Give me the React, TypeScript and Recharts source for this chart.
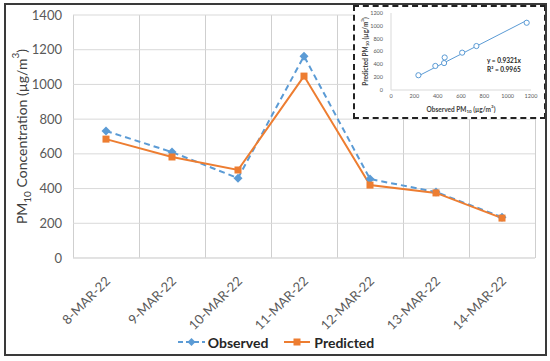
import React from 'react';
import {
  LineChart,
  Line,
  XAxis,
  YAxis,
  CartesianGrid,
  Legend,
  ScatterChart,
  Scatter,
} from 'recharts';

// 観測値と予測値（µg/m³）
const dates = ['8-MAR-22', '9-MAR-22', '10-MAR-22', '11-MAR-22', '12-MAR-22', '13-MAR-22', '14-MAR-22'];
const observed = [732, 610, 460, 1163, 455, 380, 235];
const predicted = [685, 582, 507, 1048, 420, 375, 230];
const yTicks = [0, 200, 400, 600, 800, 1000, 1200, 1400];

// 挿入図（散布図）の軸と回帰式
const insetTicks = [0, 200, 400, 600, 800, 1000, 1200];
const trendSlope = 0.9321;
const trendRange = [230, 1165];
const equationText = 'y = 0.9321x';
const r2Text = 'R² = 0.9965';

const FONT = 'Lato, "Open Sans", sans-serif';
const BLUE = '#5B9BD5';
const ORANGE = '#ED7D31';
const GRID = '#D9D9D9';
const VGRID = '#CFCFCF';
const TICK = '#595959';

// プロット領域（マージン・軸サイズから決まる）
const CHART_W = 550;
const CHART_H = 361;
const MARGIN = { top: 15, right: 15, bottom: 8, left: 0 };
const Y_AXIS_W = 73;
const X_AXIS_H = 73;
const LEGEND_H = 22;
const PLOT_LEFT = MARGIN.left + Y_AXIS_W;
const PLOT_W = CHART_W - PLOT_LEFT - MARGIN.right;
const PLOT_H = CHART_H - MARGIN.top - MARGIN.bottom - LEGEND_H - X_AXIS_H;

const rows = dates.map((date, i) => ({ date, observed: observed[i], predicted: predicted[i] }));
const pairs = observed.map((o, i) => ({ x: o, y: predicted[i] }));
const trendPts = trendRange.map((x) => ({ x, y: x * trendSlope }));

function Diamond(props: any) {
  const { cx, cy } = props;
  if (cx == null || cy == null) return null;
  const r = 4.5;
  return (
    <polygon
      points={`${cx},${cy - r} ${cx + r},${cy} ${cx},${cy + r} ${cx - r},${cy}`}
      fill={BLUE}
    />
  );
}

function Square(props: any) {
  const { cx, cy } = props;
  if (cx == null || cy == null) return null;
  const s = 7;
  return <rect x={cx - s / 2} y={cy - s / 2} width={s} height={s} fill={ORANGE} />;
}

function HollowCircle(props: any) {
  const { cx, cy } = props;
  if (cx == null || cy == null) return null;
  return <circle cx={cx} cy={cy} r={2.6} fill="#fff" stroke={BLUE} strokeWidth={1} />;
}

function NoShape() {
  return <g />;
}

function DateTick(props: any) {
  const { x, y, payload } = props;
  return (
    <g transform={`translate(${x + 5},${y + 16})`}>
      <text
        x={0}
        y={0}
        textAnchor="end"
        transform="rotate(-45)"
        fill={TICK}
        fontSize={13}
        fontFamily={FONT}
      >
        {payload.value}
      </text>
    </g>
  );
}

function MainYLabel(props: any) {
  const vb = props.viewBox || { x: 0, y: 15, width: 73, height: 243 };
  const cx = vb.x + 21;
  const cy = vb.y + vb.height / 2;
  return (
    <text
      x={cx}
      y={cy}
      transform={`rotate(-90, ${cx}, ${cy})`}
      textAnchor="middle"
      dominantBaseline="central"
      fill="#404040"
      fontSize={14}
      fontFamily={FONT}
    >
      PM<tspan baselineShift="sub" fontSize={10}>10</tspan> Concentration (µg/m
      <tspan baselineShift="super" fontSize={10}>3</tspan>)
    </text>
  );
}

function InsetXLabel(props: any) {
  const vb = props.viewBox || { x: 36, y: 83, width: 140, height: 27 };
  const cx = vb.x + vb.width / 2;
  const cy = vb.y + 19;
  return (
    <text
      x={cx}
      y={cy}
      textAnchor="middle"
      dominantBaseline="central"
      fill="#404040"
      fontSize={6.5}
      fontWeight="bold"
      fontFamily={FONT}
    >
      Observed PM<tspan baselineShift="sub" fontSize={4.5}>10</tspan> (µg/m
      <tspan baselineShift="super" fontSize={4.5}>3</tspan>)
    </text>
  );
}

function InsetYLabel(props: any) {
  const vb = props.viewBox || { x: 0, y: 6, width: 36, height: 77 };
  const cx = vb.x + 10;
  const cy = vb.y + vb.height / 2;
  return (
    <text
      x={cx}
      y={cy}
      transform={`rotate(-90, ${cx}, ${cy})`}
      textAnchor="middle"
      dominantBaseline="central"
      fill="#404040"
      fontSize={6.5}
      fontWeight="bold"
      fontFamily={FONT}
    >
      Predicted PM<tspan baselineShift="sub" fontSize={4.5}>10</tspan> (µg/m
      <tspan baselineShift="super" fontSize={4.5}>3</tspan>)
    </text>
  );
}

function LegendContent() {
  const text: React.CSSProperties = {
    fontFamily: FONT,
    fontSize: 14,
    fontWeight: 'bold',
    color: '#262626',
  };
  return (
    <div
      style={{
        height: LEGEND_H,
        width: CHART_W,
        display: 'flex',
        alignItems: 'center',
        justifyContent: 'center',
        paddingLeft: 2,
        boxSizing: 'border-box',
      }}
    >
      <svg width={27} height={10} style={{ marginRight: 3 }}>
        <line x1={0} y1={5} x2={27} y2={5} stroke={BLUE} strokeWidth={2} strokeDasharray="5 3" />
        <polygon points="13.5,1 17.5,5 13.5,9 9.5,5" fill={BLUE} />
      </svg>
      <span style={text}>Observed</span>
      <svg width={26} height={10} style={{ marginLeft: 16, marginRight: 4 }}>
        <line x1={0} y1={5} x2={26} y2={5} stroke={ORANGE} strokeWidth={2} />
        <rect x={9.5} y={1.5} width={7} height={7} fill={ORANGE} />
      </svg>
      <span style={text}>Predicted</span>
    </div>
  );
}

export default function App() {
  return (
    <div style={{ position: 'absolute', left: 0, top: 0, width: CHART_W, height: CHART_H, background: '#fff' }}>
      {/* Excel風にカテゴリ境界の縦グリッド（チャートの背面） */}
      {Array.from({ length: dates.length + 1 }, (_, i) => (
        <div
          key={`vg-${i}`}
          style={{
            position: 'absolute',
            left: Math.round(PLOT_LEFT + (i * PLOT_W) / dates.length),
            top: MARGIN.top,
            width: 1,
            height: PLOT_H,
            background: VGRID,
          }}
        />
      ))}
      <LineChart width={CHART_W} height={CHART_H} data={rows} margin={MARGIN}>
        <CartesianGrid stroke={GRID} vertical={false} />
        <XAxis
          dataKey="date"
          scale="band"
          height={X_AXIS_H}
          interval={0}
          tick={<DateTick />}
          axisLine={{ stroke: GRID }}
          tickLine={false}
        />
        <YAxis
          width={Y_AXIS_W}
          domain={[0, 1400]}
          ticks={yTicks}
          axisLine={false}
          tickLine={false}
          tickMargin={5}
          tick={{ fill: TICK, fontSize: 13, fontFamily: FONT }}
          label={<MainYLabel />}
        />
        <Line
          dataKey="observed"
          stroke={BLUE}
          strokeWidth={2}
          strokeDasharray="6 4"
          dot={<Diamond />}
          activeDot={false}
          isAnimationActive={false}
        />
        <Line
          dataKey="predicted"
          stroke={ORANGE}
          strokeWidth={2}
          dot={<Square />}
          activeDot={false}
          isAnimationActive={false}
        />
        <Legend verticalAlign="bottom" content={<LegendContent />} wrapperStyle={{ left: 0, width: CHART_W }} />
      </LineChart>

      <div
        style={{
          position: 'absolute',
          left: 353,
          top: 5,
          width: 193,
          height: 114,
          boxSizing: 'border-box',
          border: '2px dashed #222',
          background: '#fff',
        }}
      >
        <ScatterChart width={189} height={110} margin={{ top: 6, right: 13, bottom: 0, left: 0 }}>
          <XAxis
            type="number"
            dataKey="x"
            domain={[0, 1200]}
            ticks={insetTicks}
            height={27}
            axisLine={{ stroke: GRID }}
            tickLine={false}
            tickSize={3}
            tickMargin={1}
            tick={{ fill: TICK, fontSize: 5.5, fontFamily: FONT }}
            label={<InsetXLabel />}
          />
          <YAxis
            type="number"
            dataKey="y"
            domain={[0, 1200]}
            ticks={insetTicks}
            width={36}
            axisLine={{ stroke: GRID }}
            tickLine={false}
            tickSize={3}
            tickMargin={5}
            tick={{ fill: TICK, fontSize: 5.5, fontFamily: FONT }}
            label={<InsetYLabel />}
          />
          <Scatter
            data={trendPts}
            line={{ stroke: BLUE, strokeWidth: 1 }}
            shape={<NoShape />}
            isAnimationActive={false}
          />
          <Scatter data={pairs} shape={<HollowCircle />} isAnimationActive={false} />
        </ScatterChart>
        <div
          style={{
            position: 'absolute',
            left: 132,
            top: 49,
            fontFamily: FONT,
            fontSize: 6.5,
            fontWeight: 'bold',
            color: '#262626',
            lineHeight: '9px',
          }}
        >
          <div>{equationText}</div>
          <div>{r2Text}</div>
        </div>
      </div>

      <div
        style={{
          position: 'absolute',
          left: 4,
          top: 3,
          width: 543,
          height: 353,
          boxSizing: 'border-box',
          border: '2px solid #3a3a3a',
          pointerEvents: 'none',
        }}
      />
    </div>
  );
}
